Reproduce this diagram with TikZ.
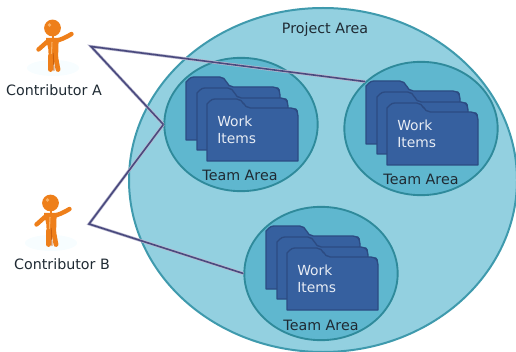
\documentclass[tikz,border=0pt]{standalone}
\usepackage{fontspec}
\setmainfont{DejaVu Sans}
\usetikzlibrary{shapes.geometric}
\definecolor{projfill}{HTML}{93D0E0}
\definecolor{projline}{HTML}{3F9AAD}
\definecolor{teamfill}{HTML}{5FB7CF}
\definecolor{teamline}{HTML}{2F8A9B}
\definecolor{foldfill}{HTML}{36609F}
\definecolor{foldline}{HTML}{2C4B82}
\definecolor{linkcol}{HTML}{4A4A7E}
\definecolor{linkshade}{HTML}{B9B7CF}
\definecolor{figorange}{HTML}{EE7F1A}
\definecolor{figdark}{HTML}{C9600F}
\definecolor{figlight}{HTML}{F9B267}
\definecolor{txt}{HTML}{1F2A33}
\newcommand{\folderpath}[6]{%
  \draw[foldshape] (#1,#2+8) -- ++(0,-3) [rounded corners=2] -- (#1+5,#2) [rounded corners=4] -- (#3,#2) -- (#3+3,#4)
    [rounded corners=3] -- (#5-3,#4) -- (#5,#4+4) [sharp corners] -- (#5,#6) -- (#1,#6) -- cycle;}
\tikzset{
  x=0.75pt,y=-0.75pt,
  projarea/.style={ellipse,draw=projline,fill=projfill,line width=1.5pt,minimum width=291pt,minimum height=258pt,inner sep=0pt},
  teamarea/.style={ellipse,draw=teamline,fill=teamfill,line width=1.4pt,minimum width=115pt,minimum height=100pt,inner sep=0pt},
  foldshape/.style={draw=foldline,fill=foldfill,line width=1pt,line join=round},
  lab/.style={font=\fontsize{10.7pt}{12pt}\selectfont,text=txt,inner sep=0pt},
  worktext/.style={font=\fontsize{10.4pt}{12pt}\selectfont,text=white!88!foldfill,inner sep=0pt,anchor=west},
  linkline/.style={draw=linkcol,line width=1.2pt,line join=miter},
  linkback/.style={draw=linkshade,line width=2.2pt},
  limb/.style={draw=figorange,line cap=round,line join=round},
  folders/.pic={
    \folderpath{-55}{-47}{-16}{-37}{39}{16}
    \folderpath{-44}{-36}{-8}{-26}{47}{26}
    \folderpath{-34}{-25}{1}{-16}{57}{37}
    \node[worktext] at (-24,-3) {Work};
    \node[worktext] at (-24,15) {Items};
  },
  person/.pic={
    \fill[cyan!3] (1,40) ellipse (26 and 8);
    \draw[limb,line width=3.3pt] (-13.5,21.5) -- (-4,13);
    \draw[limb,line width=3.3pt] (3,13) .. controls (8,12) and (13,10) .. (19.5,6);
    \draw[limb,line width=3.6pt] (-1.3,28) -- (-1.3,41.5);
    \draw[limb,line width=3.6pt] (3.5,28) -- (6,41.5);
    \fill[figorange] (-6,10) -- (7,10) .. controls (6,18) and (6.5,24) .. (6,30) -- (-3.5,30) .. controls (-3.5,24) and (-3,19) .. (-6,14) -- cycle;
    \fill[figorange] (0,8) rectangle (2,12);
    \draw[figdark,line width=0.7pt] (1.2,25) -- (2,43);
    \draw[figlight,line width=0.8pt] (0,14) -- (-0.5,26);
    \fill[figorange] (0.5,0) circle (8.4);
    \fill[figlight] (-2.5,-3) circle (1.8);
  }
}
\begin{document}
\begin{tikzpicture}
\useasboundingbox (0,0) rectangle (516,352);
\clip (0,0) rectangle (516,352);
\node[projarea] (proj) at (323,180) {};
\node[teamarea] (team1) at (241,124.5) {};
\node[teamarea] (team2) at (421,128.5) {};
\node[teamarea] (team3) at (321,273.5) {};
\pic at (241,124) {folders};
\pic at (421,128) {folders};
\pic at (321,273) {folders};
\node[lab] (projlab) at (325,30) {Project Area};
\node[lab] (t1lab) at (240,175) {Team Area};
\node[lab] (t2lab) at (421,179) {Team Area};
\node[lab] (t3lab) at (321,325) {Team Area};
\pic at (52,28) {person};
\pic at (50,203) {person};
\node[lab] (ca) at (54,90) {Contributor A};
\node[lab] (cb) at (62,264) {Contributor B};
\coordinate (hubA) at (91,46.5);
\coordinate (hubB) at (89,224);
\draw[linkback,yshift=-1pt,xshift=0.6pt] (team1.west) -- (hubA) -- (team2.140);
\draw[linkback,yshift=-1pt,xshift=0.6pt] (team1.west) -- (hubB) -- (team3.west);
\draw[linkline] (team1.west) -- (hubA) -- (team2.140);
\draw[linkline] (team1.west) -- (hubB) -- (team3.west);
\end{tikzpicture}
\end{document}
